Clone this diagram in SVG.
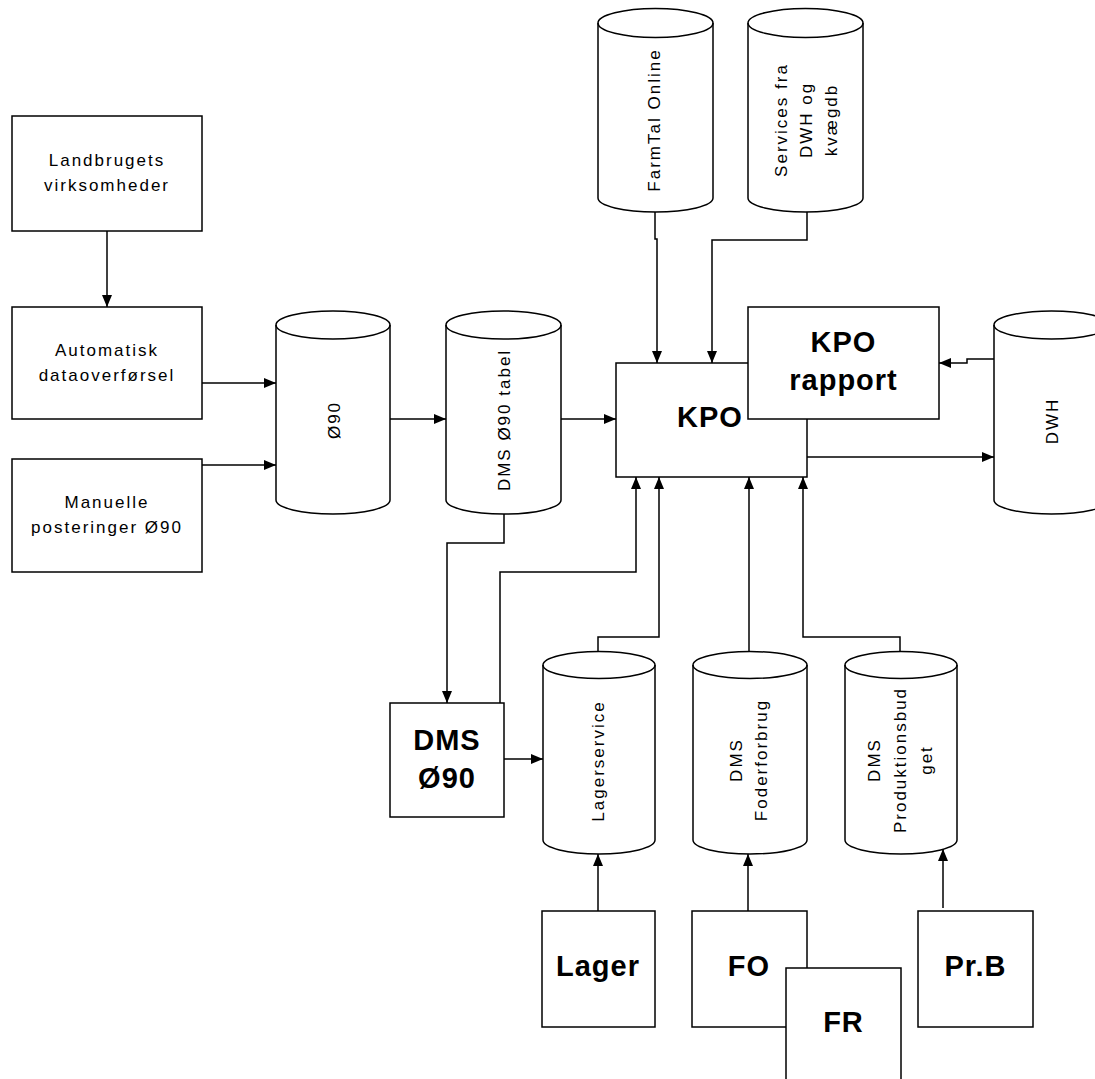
<svg xmlns="http://www.w3.org/2000/svg" width="1095" height="1079" viewBox="0 0 1095 1079">
<style>
  .s{fill:#fff;stroke:#000;stroke-width:1.5}
  .t{font-family:"Liberation Sans",Arial,sans-serif;font-size:17px;letter-spacing:2px;fill:#000;text-anchor:middle}
  .b{font-family:"Liberation Sans",Arial,sans-serif;font-size:29px;font-weight:bold;letter-spacing:1px;fill:#000;text-anchor:middle}
  .c{fill:none;stroke:#000;stroke-width:1.5}
</style>
<defs>
  <marker id="ah" markerWidth="12" markerHeight="10" refX="12" refY="5" orient="auto" markerUnits="userSpaceOnUse">
    <path d="M0,0 L12,5 L0,10 z" fill="#000"/>
  </marker>
</defs>
<rect width="1095" height="1079" fill="#fff"/>

<g id="landbrugets">
  <rect class="s" x="12" y="116" width="190" height="115"/>
  <text class="t"><tspan x="107" y="166">Landbrugets</tspan><tspan x="107" y="191">virksomheder</tspan></text>
</g>
<g id="automatisk">
  <rect class="s" x="12" y="307" width="190" height="112"/>
  <text class="t"><tspan x="107" y="356">Automatisk</tspan><tspan x="107" y="381">dataoverførsel</tspan></text>
</g>
<g id="manuelle">
  <rect class="s" x="12" y="459" width="190" height="113"/>
  <text class="t"><tspan x="107" y="508">Manuelle</tspan><tspan x="107" y="533">posteringer Ø90</tspan></text>
</g>

<g id="farmtal">
  <path class="s" d="M598,23 A57.5,14.5 0 0 1 713,23 V198 A57.5,14 0 0 1 598,198 Z"/>
  <path class="c" d="M598,23 A57.5,14.5 0 0 0 713,23"/>
  <text class="t" transform="translate(655.5,120) rotate(-90)"><tspan x="0" y="4.5">FarmTal Online</tspan></text>
</g>
<g id="services">
  <path class="s" d="M748,23 A57.5,14.5 0 0 1 863,23 V198 A57.5,14 0 0 1 748,198 Z"/>
  <path class="c" d="M748,23 A57.5,14.5 0 0 0 863,23"/>
  <text class="t" transform="translate(805.5,120) rotate(-90)"><tspan x="0" y="-18.5">Services fra</tspan><tspan x="0" y="6.5">DWH og</tspan><tspan x="0" y="31.5">kvægdb</tspan></text>
</g>

<g id="o90">
  <path class="s" d="M276,325 A57,14 0 0 1 390,325 V500 A57,14 0 0 1 276,500 Z"/>
  <path class="c" d="M276,325 A57,14 0 0 0 390,325"/>
  <text class="t" transform="translate(333,420) rotate(-90)"><tspan x="0" y="7">Ø90</tspan></text>
</g>
<g id="dmstabel">
  <path class="s" d="M446,325 A57.5,14 0 0 1 561,325 V500 A57.5,14 0 0 1 446,500 Z"/>
  <path class="c" d="M446,325 A57.5,14 0 0 0 561,325"/>
  <text class="t" transform="translate(503.5,420) rotate(-90)"><tspan x="0" y="6.5">DMS Ø90 tabel</tspan></text>
</g>

<g id="kpo">
  <rect class="s" x="616" y="363" width="191" height="114"/>
  <text class="b" x="710" y="427">KPO</text>
</g>
<g id="kporapport">
  <rect class="s" x="748" y="307" width="191" height="112"/>
  <text class="b"><tspan x="843.5" y="352">KPO</tspan><tspan x="843.5" y="390">rapport</tspan></text>
</g>

<g id="dwh">
  <path class="s" d="M994,325 A57.5,14 0 0 1 1109,325 V500 A57.5,14 0 0 1 994,500 Z"/>
  <path class="c" d="M994,325 A57.5,14 0 0 0 1109,325"/>
  <text class="t" transform="translate(1051.5,421) rotate(-90)"><tspan x="0" y="6.5">DWH</tspan></text>
</g>

<g id="dmso90">
  <rect class="s" x="390" y="703" width="114" height="114"/>
  <text class="b"><tspan x="447" y="750">DMS</tspan><tspan x="447" y="788">Ø90</tspan></text>
</g>

<g id="lagerservice">
  <path class="s" d="M543,665 A56,13.5 0 0 1 655,665 V840 A56,14 0 0 1 543,840 Z"/>
  <path class="c" d="M543,665 A56,13.5 0 0 0 655,665"/>
  <text class="t" transform="translate(599,761) rotate(-90)"><tspan x="0" y="4.5">Lagerservice</tspan></text>
</g>
<g id="foderforbrug">
  <path class="s" d="M693,665 A57,13.5 0 0 1 807,665 V840 A57,14 0 0 1 693,840 Z"/>
  <path class="c" d="M693,665 A57,13.5 0 0 0 807,665"/>
  <text class="t" transform="translate(750,760) rotate(-90)"><tspan x="0" y="-8">DMS</tspan><tspan x="0" y="17">Foderforbrug</tspan></text>
</g>
<g id="produktionsbudget">
  <path class="s" d="M845,665 A56,13.5 0 0 1 957,665 V840 A56,14 0 0 1 845,840 Z"/>
  <path class="c" d="M845,665 A56,13.5 0 0 0 957,665"/>
  <text class="t" transform="translate(901,760) rotate(-90)"><tspan x="0" y="-21">DMS</tspan><tspan x="0" y="5">Produktionsbud</tspan><tspan x="0" y="31">get</tspan></text>
</g>

<g id="lager">
  <rect class="s" x="542" y="911" width="113" height="116"/>
  <text class="b" x="598" y="976">Lager</text>
</g>
<g id="fo">
  <rect class="s" x="692" y="911" width="115" height="116"/>
  <text class="b" x="749" y="976">FO</text>
</g>
<g id="fr">
  <rect class="s" x="786" y="968" width="115" height="120"/>
  <text class="b" x="843.5" y="1032">FR</text>
</g>
<g id="prb">
  <rect class="s" x="918" y="911" width="115" height="116"/>
  <text class="b" x="975.5" y="976">Pr.B</text>
</g>

<g id="connectors" class="c">
  <path class="c" marker-end="url(#ah)" d="M107,231 V307"/>
  <path class="c" marker-end="url(#ah)" d="M202,383 H276"/>
  <path class="c" marker-end="url(#ah)" d="M202,465 H276"/>
  <path class="c" marker-end="url(#ah)" d="M390,419 H446"/>
  <path class="c" marker-end="url(#ah)" d="M561,419 H616"/>
  <path class="c" marker-end="url(#ah)" d="M655,212 V239 H657 V363"/>
  <path class="c" marker-end="url(#ah)" d="M807,212 V240 H712 V363"/>
  <path class="c" marker-end="url(#ah)" d="M994,359 H967 V363 H939"/>
  <path class="c" marker-end="url(#ah)" d="M807,457 H994"/>
  <path class="c" marker-end="url(#ah)" d="M504,514 V543 H447 V703"/>
  <path class="c" marker-end="url(#ah)" d="M500,703 V572 H636 V477"/>
  <path class="c" marker-end="url(#ah)" d="M504,759 H543"/>
  <path class="c" marker-end="url(#ah)" d="M598,652 V637 H659 V477"/>
  <path class="c" marker-end="url(#ah)" d="M749,652 V477"/>
  <path class="c" marker-end="url(#ah)" d="M900,652 V637 H803 V477"/>
  <path class="c" marker-end="url(#ah)" d="M598,911 V854"/>
  <path class="c" marker-end="url(#ah)" d="M748,911 V854"/>
  <path class="c" marker-end="url(#ah)" d="M943,908 V849"/>
</g>
</svg>
